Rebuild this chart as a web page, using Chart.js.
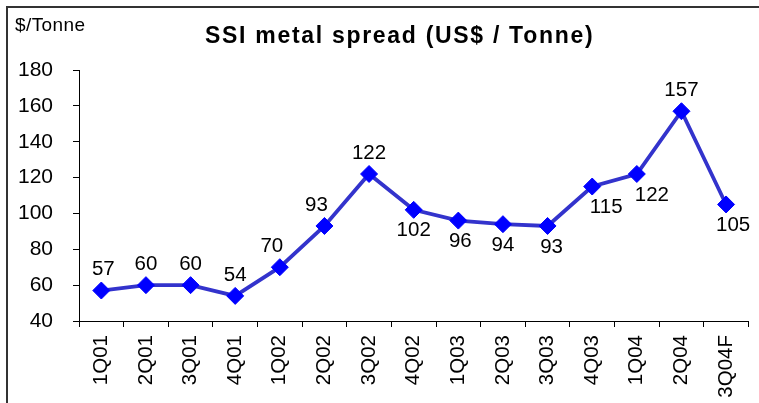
<!DOCTYPE html>
<html>
<head>
<meta charset="utf-8">
<script src="https://cdn.jsdelivr.net/npm/chart.js@4.4.1/dist/chart.umd.min.js"></script>
<style>
  html, body { margin: 0; padding: 0; background: #fff; }
  #wrap { position: relative; width: 759px; height: 403px; }
</style>
</head>
<body>
<div id="wrap"><canvas id="spreadChart" width="759" height="403"></canvas></div>
<script>
  // values
  const quarters = ["1Q01", "2Q01", "3Q01", "4Q01", "1Q02", "2Q02", "3Q02", "4Q02",
                    "1Q03", "2Q03", "3Q03", "4Q03", "1Q04", "2Q04", "3Q04F"];
  const spread = [57, 60, 60, 54, 70, 93, 122, 102, 96, 94, 93, 115, 122, 157, 105];
  const yTicks = [40, 60, 80, 100, 120, 140, 160, 180];

  // where each value label sits relative to its point
  const labelSide = ["up", "up", "up", "up", "up", "up", "up", "down",
                     "down", "down", "down", "down", "down", "up", "down"];
  const labelNudge = [2, 0, 0, 0, -8, -8, 0, 0, 2, 0, 4, 14, 15, 0, 7];

  const FONT = "'Liberation Sans', Arial, sans-serif";
  const els = {
    canvas: document.getElementById("spreadChart"),
  };

  // outer frame (left + top edges only, the rest is cut off in the reference)
  const framePlugin = {
    id: "frame",
    beforeDraw(chart) {
      const ctx = chart.ctx;
      ctx.save();
      ctx.strokeStyle = "#333333";
      ctx.lineWidth = 2;
      ctx.beginPath();
      ctx.moveTo(7, chart.height);
      ctx.lineTo(7, 7);
      ctx.lineTo(chart.width, 7);
      ctx.stroke();
      ctx.restore();
    },
  };

  // title with letter spacing + unit label
  const headingPlugin = {
    id: "heading",
    afterDraw(chart) {
      const ctx = chart.ctx;
      ctx.save();
      ctx.fillStyle = "#000";
      ctx.textBaseline = "alphabetic";
      ctx.textAlign = "left";
      ctx.font = "bold 23px " + FONT;
      if ("letterSpacing" in ctx) ctx.letterSpacing = "1.7px";
      ctx.fillText("SSI metal spread (US$ / Tonne)", 205, 43);
      ctx.font = "19px " + FONT;
      if ("letterSpacing" in ctx) ctx.letterSpacing = "0.4px";
      ctx.fillText("$/Tonne", 15, 31);
      ctx.restore();
    },
  };

  const valueLabelPlugin = {
    id: "valueLabels",
    afterDatasetsDraw(chart) {
      const ctx = chart.ctx;
      const meta = chart.getDatasetMeta(0);
      ctx.save();
      ctx.fillStyle = "#000";
      ctx.font = "20.5px " + FONT;
      ctx.textAlign = "center";
      ctx.textBaseline = "middle";
      meta.data.forEach((pt, i) => {
        const dy = labelSide[i] === "up" ? -21 : 21;
        ctx.fillText(String(spread[i]), pt.x + labelNudge[i], pt.y + dy);
      });
      ctx.restore();
    },
  };

  const spreadChart = new Chart(els.canvas.getContext("2d"), {
    type: "line",
    data: {
      labels: quarters,
      datasets: [
        {
          data: spread,
          borderColor: "#3333cc",
          borderWidth: 3.8,
          tension: 0,
          pointStyle: "rectRot",
          pointRadius: 8.5,
          pointHoverRadius: 8.5,
          pointBackgroundColor: "#0000ff",
          pointBorderColor: "#0000ff",
          pointBorderWidth: 1,
          clip: false,
        },
      ],
    },
    options: {
      responsive: false,
      devicePixelRatio: 1,
      animation: false,
      layout: { padding: { top: 70, right: 1, left: 0, bottom: 0 } },
      plugins: {
        legend: { display: false },
        title: { display: false },
        tooltip: { enabled: false },
      },
      scales: {
        x: {
          offset: true,
          afterFit(scale) { scale.height = 82; },
          grid: {
            offset: true,
            drawOnChartArea: false,
            drawTicks: true,
            tickLength: 6,
            color: "#000",
          },
          border: { color: "#000", width: 1 },
          ticks: {
            color: "#000",
            font: { family: FONT, size: 20.5 },
            minRotation: 90,
            maxRotation: 90,
            autoSkip: false,
            padding: 8,
          },
        },
        y: {
          min: 40,
          max: 180,
          afterFit(scale) { scale.width = 79; },
          afterBuildTicks(scale) { scale.ticks = yTicks.map((v) => ({ value: v })); },
          grid: {
            drawOnChartArea: false,
            drawTicks: true,
            tickLength: 6,
            color: "#000",
          },
          border: { color: "#000", width: 1 },
          ticks: {
            color: "#000",
            font: { family: FONT, size: 21 },
            padding: 20,
          },
        },
      },
    },
    plugins: [framePlugin, headingPlugin, valueLabelPlugin],
  });
</script>
</body>
</html>
